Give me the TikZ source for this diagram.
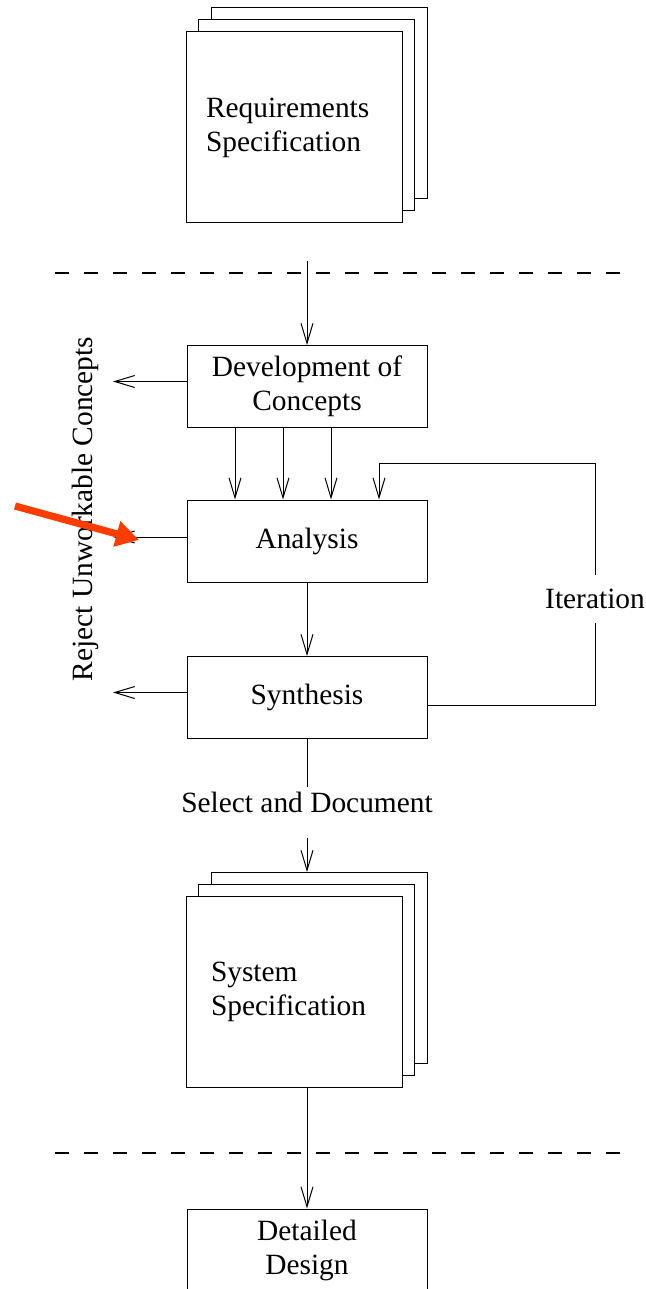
\documentclass[tikz,border=0pt]{standalone}
\usepackage{fontspec}
\setmainfont{Liberation Serif}
\usetikzlibrary{arrows.meta}

\begin{document}
\begin{tikzpicture}[x=0.5pt,y=-0.5pt,
      every node/.style={font=\fontsize{14.7}{17}\selectfont},
      box/.style={draw,line width=0.5pt,fill=white,minimum width=120pt,minimum height=41pt,align=center},
      sheet/.style={draw,line width=0.5pt,fill=white,minimum width=108pt,minimum height=95.5pt,align=left},
      flow/.style={line width=0.5pt,-{Straight Barb[length=10pt,width=6pt]}},
      wire/.style={line width=0.5pt},
      border/.style={line width=1.2pt,dash pattern=on 7pt off 7.5pt},
      pointer/.style={line width=3.6pt,draw={rgb,255:red,255;green,60;blue,0},
          -{Triangle[length=11.5pt,width=12.5pt]}}]
    \useasboundingbox (0,0) rectangle (645,1289);

    \node[sheet] (reqs3) at (319,103.5) {};
    \node[sheet] (reqs2) at (306.5,115.5) {};
    \node[sheet,inner xsep=10pt,text width=88pt] (reqs) at (294,127.5) {Requirements\\Specification};

    \coordinate (cutl1) at (55,273);
    \coordinate (cutr1) at (620,273);
    \draw[border] (cutl1) -- (cutr1);

    \node[box] (dev) at (307,386.5) {Development of\\Concepts};
    \node[box] (ana) at (307,541) {Analysis};
    \node[box] (syn) at (307,697.5) {Synthesis};

    \coordinate (feed) at (307,261);
    \draw[flow] (feed) -- (dev.north);

    \coordinate (rejx) at (113,0);
    \node[rotate=90] (reject) at (85,509) {Reject Unworkable Concepts};
    \draw[flow] ([yshift=2.5pt]dev.west) -- ([yshift=2.5pt]dev.west -| rejx);
    \draw[flow] ([yshift=2pt]ana.west) -- ([yshift=2pt]ana.west -| rejx);
    \draw[flow] ([yshift=2.5pt]syn.west) -- ([yshift=2.5pt]syn.west -| rejx);

    \foreach \dx in {-36,-12,12}
        \draw[flow] ([xshift=\dx pt]dev.south) -- ([xshift=\dx pt]ana.north);
    \draw[flow] (ana) -- (syn);

    \coordinate (loop) at (595,463);
    \draw[flow] ([yshift=-4pt]syn.east) -| node[pos=0.72,fill=white,inner xsep=1pt,inner ysep=7pt] (iter) {Iteration}
        (loop) -- ([xshift=36pt]ana.north |- loop) -- ([xshift=36pt]ana.north);

    \node[anchor=base,inner sep=2pt] (sel) at (307,812) {Select and Document};

    \node[sheet] (sys3) at (319,968) {};
    \node[sheet] (sys2) at (306.5,980) {};
    \node[sheet,inner xsep=12.5pt,text width=83pt] (sys) at (294,992) {System\\Specification};

    \draw[wire] (syn.south) -- (sel.north);
    \draw[flow] ([yshift=-10.5pt]sel.south) -- (sel.south |- sys3.north);

    \coordinate (cutl2) at (55,1153);
    \coordinate (cutr2) at (620,1153);
    \draw[border] (cutl2) -- (cutr2);

    \node[box] (dd) at (307,1250) {Detailed\\Design};
    \draw[flow] (sys.south -| dd) -- (dd.north);

    \coordinate (hintfrom) at (15,506);
    \coordinate (hintto) at (139,540);
    \draw[pointer] (hintfrom) -- (hintto);
\end{tikzpicture}
\end{document}
